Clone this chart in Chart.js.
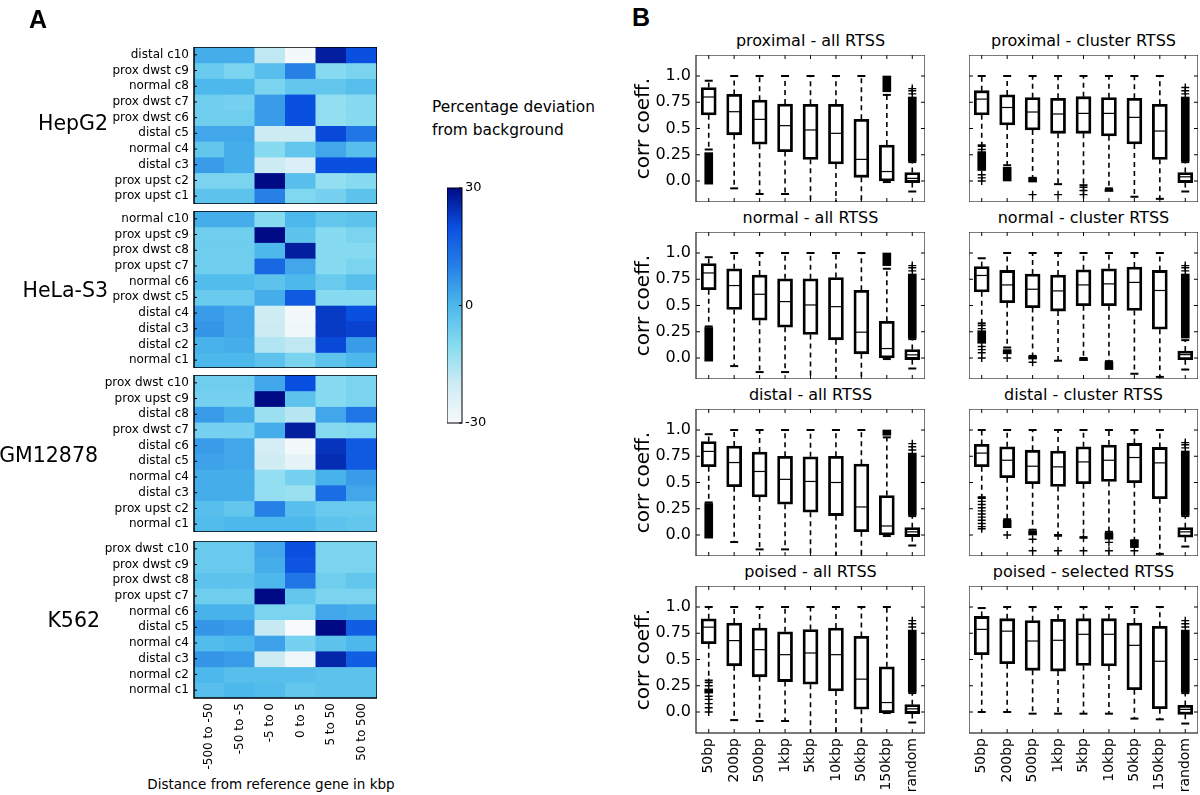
<!DOCTYPE html>
<html>
<head>
<meta charset="utf-8">
<script src="https://cdn.jsdelivr.net/npm/chart.js@4.4.0/dist/chart.umd.min.js"></script>
<style>
body { margin: 0; background: #fff; }
#fig { position: relative; width: 1200px; height: 795px; overflow: hidden; font-family: 'DejaVu Sans', sans-serif; color: #000; }
.box { position: absolute; }
.lbl { position: absolute; white-space: nowrap; line-height: 1; }
</style>
</head>
<body>
<div id="fig"></div>
<script>
// Panel A: heatmaps of percentage deviation from background, four cell lines.
// Panel B: box plots of correlation coefficients per distance bin.

const HM_COLS = ['-500 to -50', '-50 to -5', '-5 to 0', '0 to 5', '5 to 50', '50 to 500'];

const HEPG2_ROWS = ['distal c10', 'prox dwst c9', 'normal c8', 'prox dwst c7', 'prox dwst c6',
    'distal c5', 'normal c4', 'distal c3', 'prox upst c2', 'prox upst c1'];
const HEPG2_VALS = [
    [2, 2, -18, -29, 27, 20],
    [-5, -8, -2, 10, -10, -8],
    [0, 0, -8, -4, -4, -2],
    [-6, -7, 5, 20, -12, -10],
    [-6, -6, 5, 20, -12, -10],
    [3, 3, -20, -20, 21, 12],
    [-4, 2, -10, -4, 3, -2],
    [5, 2, -20, -23, 20, 20],
    [-8, -8, 30, -2, -12, -10],
    [-3, -3, 10, -9, -7, -3]
];

const HELA_ROWS = ['normal c10', 'prox upst c9', 'prox dwst c8', 'prox upst c7', 'normal c6',
    'prox dwst c5', 'distal c4', 'distal c3', 'distal c2', 'normal c1'];
const HELA_VALS = [
    [2, 2, -10, 0, -4, -3],
    [-6, -6, 30, -3, -10, -8],
    [-6, -6, 0, 27, -10, -10],
    [-6, -6, 15, 3, -10, -8],
    [-1, -1, -3, 0, -5, -2],
    [-5, -5, 2, 18, -10, -10],
    [5, 3, -21, -29, 23, 20],
    [6, 3, -20, -28, 23, 22],
    [1, 2, -16, -18, 21, 5],
    [0, 0, -3, -8, -3, 0]
];

const GM_ROWS = ['prox dwst c10', 'prox upst c9', 'distal c8', 'prox dwst c7', 'distal c6',
    'distal c5', 'normal c4', 'distal c3', 'prox upst c2', 'normal c1'];
const GM_VALS = [
    [-6, -6, 3, 20, -10, -8],
    [-7, -7, 30, -3, -10, -8],
    [5, 2, -13, -17, 3, 12],
    [-7, -7, 2, 27, -10, -9],
    [5, 3, -22, -29, 24, 18],
    [4, 3, -21, -26, 25, 18],
    [2, 2, -12, -7, 1, 5],
    [2, 2, -12, -13, 14, 3],
    [-2, -4, 10, -2, -5, -5],
    [-1, 0, 0, 0, -3, -4]
];

const K562_ROWS = ['prox dwst c10', 'prox dwst c9', 'prox dwst c8', 'prox upst c7', 'normal c6',
    'distal c5', 'normal c4', 'distal c3', 'normal c2', 'normal c1'];
const K562_VALS = [
    [-5, -5, 3, 20, -8, -8],
    [-5, -5, 2, 19, -8, -8],
    [-3, -3, 0, 12, -6, -4],
    [-6, -6, 30, -4, -8, -8],
    [1, 1, -8, -8, 3, 2],
    [6, 5, -19, -30, 30, 17],
    [-1, 0, 4, -7, -3, 0],
    [6, 5, -20, -28, 26, 17],
    [0, -2, -2, -2, -3, -3],
    [-2, 0, -1, -4, -3, -3]
];

const CB_TICKS = [-30, 0, 30];
const HEAT_STOPS = [
    [-30, '#f7fafc'], [-20, '#cdebf3'], [-10, '#86dbf0'], [0, '#4cb8eb'],
    [10, '#2680e6'], [20, '#0a50e0'], [30, '#000a85']
];

const BOX_CATS = ['50bp', '200bp', '500bp', '1kbp', '5kbp', '10kbp', '50kbp', '150kbp', 'random'];
const Y_TICKS = [0, 0.25, 0.5, 0.75, 1.0];
const Y_TICK_LABELS = ['0.0', '0.25', '0.5', '0.75', '1.0'];

// each box: [whisker low, q1, median, q3, whisker high]
const PROX_ALL = [
    [0.30, 0.63, 0.80, 0.89, 0.955], [-0.07, 0.44, 0.66, 0.825, 1.0], [-0.124, 0.35, 0.587, 0.77, 1.0],
    [-0.124, 0.28, 0.527, 0.733, 1.0], [-0.25, 0.206, 0.486, 0.73, 1.0], [-0.25, 0.162, 0.454, 0.73, 1.0],
    [-0.25, 0.035, 0.206, 0.587, 1.0], [-0.01, 0.0, 0.09, 0.343, 0.82], [-0.1, -0.015, 0.025, 0.08, 0.18]
];
const PROX_ALL_BANDS = [[-0.03, 0.27], null, null, null, null, null, null, [0.85, 1.0], [0.19, 0.80]];
const PROX_ALL_PTS = [[8, 0.83], [8, 0.86], [8, 0.88]];

const NORM_ALL = [
    [0.30, 0.65, 0.81, 0.90, 0.96], [-0.077, 0.463, 0.69, 0.85, 1.0], [-0.134, 0.36, 0.607, 0.79, 1.0],
    [-0.134, 0.294, 0.537, 0.754, 1.0], [-0.25, 0.224, 0.505, 0.754, 1.0], [-0.25, 0.173, 0.489, 0.767, 1.0],
    [-0.25, 0.04, 0.246, 0.645, 1.0], [-0.01, 0.0, 0.09, 0.35, 0.85], [-0.1, -0.015, 0.03, 0.08, 0.18]
];
const NORM_ALL_BANDS = [[-0.03, 0.29], null, null, null, null, null, null, [0.88, 1.0], [0.19, 0.80]];
const NORM_ALL_PTS = [[8, 0.83], [8, 0.86], [8, 0.88]];

const DIST_ALL = [
    [0.31, 0.65, 0.796, 0.89, 0.96], [-0.067, 0.46, 0.69, 0.847, 1.0], [-0.137, 0.363, 0.605, 0.79, 1.0],
    [-0.137, 0.293, 0.53, 0.75, 1.0], [-0.25, 0.217, 0.51, 0.745, 1.0], [-0.25, 0.185, 0.50, 0.75, 1.0],
    [-0.25, 0.032, 0.267, 0.675, 1.0], [-0.01, 0.0, 0.086, 0.376, 0.93], [-0.1, -0.015, 0.03, 0.07, 0.18]
];
const DIST_ALL_BANDS = [[-0.03, 0.30], null, null, null, null, null, null, [0.95, 1.0], [0.19, 0.78]];
const DIST_ALL_PTS = [[8, 0.81], [8, 0.84], [8, 0.87]];

const POIS_ALL = [
    [0.30, 0.65, 0.808, 0.888, 1.0], [-0.077, 0.44, 0.68, 0.847, 1.0], [-0.086, 0.335, 0.594, 0.80, 1.0],
    [-0.086, 0.29, 0.546, 0.764, 1.0], [-0.25, 0.265, 0.562, 0.786, 1.0], [-0.25, 0.20, 0.546, 0.80, 1.0],
    [-0.25, 0.026, 0.313, 0.72, 1.0], [-0.01, -0.006, 0.09, 0.43, 1.0], [-0.1, -0.015, 0.03, 0.07, 0.18]
];
const POIS_ALL_BANDS = [[0.18, 0.22], null, null, null, null, null, null, null, [0.19, 0.78]];
const POIS_ALL_PTS = [[0, 0.0], [0, 0.04], [0, 0.08], [0, 0.12], [0, 0.15], [0, 0.25], [0, 0.28],
    [8, 0.81], [8, 0.84], [8, 0.87]];

const PROX_CL = [
    [0.34, 0.63, 0.78, 0.86, 1.0], [0.15, 0.533, 0.70, 0.82, 1.0], [0.03, 0.486, 0.657, 0.794, 1.0],
    [-0.03, 0.454, 0.638, 0.787, 1.0], [-0.04, 0.454, 0.644, 0.803, 1.0], [-0.07, 0.43, 0.644, 0.794, 1.0],
    [-0.15, 0.352, 0.606, 0.787, 1.0], [-0.17, 0.206, 0.476, 0.73, 1.0], [-0.1, -0.015, 0.04, 0.08, 0.18]
];
const PROX_CL_BANDS = [[0.10, 0.28], [0.0, 0.13], [-0.01, 0.03], null, null, [-0.1, -0.08], null, null, [0.19, 0.80]];
const PROX_CL_PTS = [[0, 0.0], [0, 0.03], [0, 0.06], [0, 0.30], [0, 0.33], [2, -0.13], [3, -0.13],
    [4, -0.06], [4, -0.09], [4, -0.13], [8, 0.83], [8, 0.86], [8, 0.89]];

const NORM_CL = [
    [0.33, 0.63, 0.786, 0.87, 0.95], [0.10, 0.527, 0.696, 0.834, 1.0], [0.02, 0.48, 0.655, 0.80, 1.0],
    [-0.026, 0.447, 0.639, 0.79, 1.0], [0.0, 0.498, 0.696, 0.84, 1.0], [-0.03, 0.498, 0.706, 0.85, 1.0],
    [-0.15, 0.453, 0.72, 0.866, 1.0], [-0.18, 0.275, 0.643, 0.834, 1.0], [-0.11, -0.016, 0.032, 0.067, 0.17]
];
const NORM_CL_BANDS = [[0.14, 0.26], [0.04, 0.08], [-0.01, 0.015], null, [-0.025, -0.005], [-0.11, -0.04], null, null, [0.19, 0.80]];
const NORM_CL_PTS = [[0, 0.0], [0, 0.05], [0, 0.08], [0, 0.11], [0, 0.28], [0, 0.31], [1, 0.0], [2, -0.04],
    [8, 0.83], [8, 0.86], [8, 0.88]];

const DIST_CL = [
    [0.36, 0.65, 0.78, 0.863, 1.0], [0.15, 0.546, 0.712, 0.84, 1.0], [0.05, 0.489, 0.655, 0.808, 1.0],
    [0.0, 0.463, 0.649, 0.80, 1.0], [-0.02, 0.489, 0.696, 0.84, 1.0], [0.03, 0.51, 0.712, 0.856, 1.0],
    [-0.05, 0.498, 0.738, 0.872, 1.0], [-0.18, 0.345, 0.687, 0.834, 1.0], [-0.11, -0.02, 0.03, 0.07, 0.18]
];
const DIST_CL_BANDS = [null, [0.07, 0.14], [0.0, 0.04], null, null, [-0.04, 0.02], [-0.12, -0.05], null, [0.19, 0.80]];
const DIST_CL_PTS = [[0, 0.06], [0, 0.08], [0, 0.11], [0, 0.14], [0, 0.17], [0, 0.20], [0, 0.23], [0, 0.26],
    [0, 0.29], [0, 0.32], [0, 0.35], [1, 0.0], [2, -0.04], [2, -0.15], [3, -0.01], [3, -0.15],
    [4, -0.03], [4, -0.15], [5, -0.07], [5, -0.15], [6, -0.15], [8, 0.83], [8, 0.86], [8, 0.88]];

const POIS_SEL = [
    [0.0, 0.546, 0.787, 0.91, 0.99], [0.0, 0.46, 0.77, 0.889, 1.0], [-0.016, 0.397, 0.676, 0.87, 1.0],
    [-0.016, 0.39, 0.683, 0.883, 1.0], [-0.016, 0.444, 0.74, 0.889, 1.0], [-0.016, 0.438, 0.74, 0.889, 1.0],
    [-0.063, 0.213, 0.635, 0.848, 1.0], [-0.07, 0.032, 0.483, 0.816, 1.0], [-0.11, -0.022, 0.025, 0.063, 0.18]
];
const POIS_SEL_BANDS = [null, null, null, null, null, null, null, null, [0.19, 0.78]];
const POIS_SEL_PTS = [[8, 0.81], [8, 0.84], [8, 0.87]];

// ---- layout ----
const FONT = "'DejaVu Sans', sans-serif";
const HM_LEFT = 194, HM_W = 183, HM_H = 157, HM_YAXIS_W = 150, HM_XAXIS_H = 75;
const HM_TOPS = [47, 211, 375, 541];
const BP_LEFTS = [696, 969], BP_W = 229, BP_H = 147, BP_YAXIS_W = 64, BP_XAXIS_H = 62;
const BP_TOPS = [55, 232, 409, 586];

Chart.defaults.font.family = FONT;
Chart.defaults.color = '#000';
Chart.defaults.animation = false;
Chart.defaults.events = [];

const fig = document.getElementById('fig');

function place(left, top, w, h) {
    const d = document.createElement('div');
    d.className = 'box';
    d.style.left = left + 'px';
    d.style.top = top + 'px';
    d.style.width = w + 'px';
    d.style.height = h + 'px';
    const c = document.createElement('canvas');
    c.width = w; c.height = h;
    c.style.width = w + 'px'; c.style.height = h + 'px';
    d.appendChild(c);
    fig.appendChild(d);
    return c;
}

function label(str, x, y, size, anchor, weight, family) {
    const el = document.createElement('div');
    el.className = 'lbl';
    el.textContent = str;
    el.style.left = x + 'px';
    el.style.top = y + 'px';
    el.style.fontSize = size + 'px';
    if (weight) el.style.fontWeight = weight;
    if (family) el.style.fontFamily = family;
    const tx = anchor === 'left' ? '0' : anchor === 'right' ? '-100%' : '-50%';
    el.style.transform = `translate(${tx}, -50%)`;
    fig.appendChild(el);
}

function hexRgb(h) {
    return [1, 3, 5].map(i => parseInt(h.slice(i, i + 2), 16));
}

function heatColor(v) {
    for (let i = 1; i < HEAT_STOPS.length; i++) {
        const [v0, c0] = HEAT_STOPS[i - 1], [v1, c1] = HEAT_STOPS[i];
        if (v <= v1 || i === HEAT_STOPS.length - 1) {
            const t = Math.max(0, Math.min(1, (v - v0) / (v1 - v0)));
            const a = hexRgb(c0), b = hexRgb(c1);
            const m = a.map((x, k) => Math.round(x + (b[k] - x) * t));
            return `rgb(${m[0]},${m[1]},${m[2]})`;
        }
    }
}

function seg(ctx, x1, y1, x2, y2) {
    ctx.beginPath();
    ctx.moveTo(x1, y1);
    ctx.lineTo(x2, y2);
    ctx.stroke();
}

// scales keep exactly the size we give them, no label overflow padding
function fixSize(w, h) {
    return s => {
        if (w !== null) s.width = w;
        if (h !== null) s.height = h;
        s.paddingTop = 0; s.paddingBottom = 0;
        s.paddingLeft = 0; s.paddingRight = 0;
    };
}

const NO_GRID = { display: false, drawTicks: false };

// ---- panel A ----
const heatFrame = {
    id: 'heatFrame',
    afterDatasetsDraw(chart) {
        const { ctx, chartArea: a, scales: { y } } = chart;
        ctx.save();
        ctx.strokeStyle = '#000';
        ctx.lineWidth = 1;
        y.ticks.forEach(t => {
            const py = y.getPixelForValue(t.value);
            seg(ctx, a.left, py, a.left + 3, py);
        });
        ctx.lineWidth = 1.5;
        ctx.strokeRect(a.left, a.top, a.width, a.height);
        ctx.restore();
    }
};

function drawHeatmap(rows, vals, top, showX) {
    const h = HM_H + (showX ? HM_XAXIS_H : 0);
    const canvas = place(HM_LEFT - HM_YAXIS_W, top, HM_W + HM_YAXIS_W, h);
    new Chart(canvas, {
        type: 'bar',
        data: {
            labels: HM_COLS,
            datasets: rows.map((r, i) => ({
                label: r,
                data: HM_COLS.map(() => [i - 0.5, i + 0.5]),
                backgroundColor: vals[i].map(heatColor),
                borderWidth: 0,
                inflateAmount: 0.5,
                grouped: false,
                barPercentage: 1,
                categoryPercentage: 1
            }))
        },
        options: {
            responsive: false,
            layout: { padding: 0, autoPadding: false },
            plugins: { legend: { display: false }, tooltip: { enabled: false } },
            scales: {
                x: {
                    grid: NO_GRID,
                    border: { display: false },
                    ticks: {
                        display: showX, autoSkip: false, minRotation: 90, maxRotation: 90,
                        font: { size: 12 }, color: '#000', padding: 5
                    },
                    afterFit: fixSize(null, showX ? HM_XAXIS_H : 0)
                },
                y: {
                    min: -0.5, max: 9.5, reverse: true,
                    grid: NO_GRID,
                    border: { display: false },
                    afterBuildTicks: s => { s.ticks = rows.map((_, i) => ({ value: i })); },
                    ticks: { autoSkip: false, callback: v => rows[v], font: { size: 12 }, color: '#000', padding: 5 },
                    afterFit: fixSize(HM_YAXIS_W, null)
                }
            }
        },
        plugins: [heatFrame]
    });
}

drawHeatmap(HEPG2_ROWS, HEPG2_VALS, HM_TOPS[0], false);
drawHeatmap(HELA_ROWS, HELA_VALS, HM_TOPS[1], false);
drawHeatmap(GM_ROWS, GM_VALS, HM_TOPS[2], false);
drawHeatmap(K562_ROWS, K562_VALS, HM_TOPS[3], true);

label('HepG2', 108, 123, 20.5, 'right');
label('HeLa-S3', 108, 290, 20.5, 'right');
label('GM12878', 98, 455, 20.5, 'right');
label('K562', 100, 620, 20.5, 'right');
label('Distance from reference gene in kbp', 271, 785, 13.5);
label('A', 38, 19, 25, 'center', 'bold', "'Liberation Sans', sans-serif");
label('B', 641, 17, 25, 'center', 'bold', "'Liberation Sans', sans-serif");
label('Percentage deviation', 432, 108, 15.4, 'left');
label('from background', 432, 131, 15.4, 'left');

// colour bar
(function () {
    const canvas = place(447, 180, 45, 251);
    new Chart(canvas, {
        type: 'bar',
        data: {
            labels: ['scale'],
            datasets: [{
                data: [[CB_TICKS[0], CB_TICKS[2]]],
                backgroundColor: c => {
                    const { chart } = c;
                    if (!chart.chartArea) return '#4cb8eb';
                    const y = chart.scales.y;
                    const g = chart.ctx.createLinearGradient(0, y.getPixelForValue(-30), 0, y.getPixelForValue(30));
                    HEAT_STOPS.forEach(([v, col]) => g.addColorStop((v + 30) / 60, col));
                    return g;
                },
                borderWidth: 0,
                barPercentage: 1,
                categoryPercentage: 1
            }]
        },
        options: {
            responsive: false,
            layout: { padding: { top: 8, bottom: 8 }, autoPadding: false },
            plugins: { legend: { display: false }, tooltip: { enabled: false } },
            scales: {
                x: { display: false },
                y: {
                    position: 'right', min: -30, max: 30,
                    grid: NO_GRID, border: { display: false },
                    afterBuildTicks: s => { s.ticks = CB_TICKS.map(v => ({ value: v })); },
                    ticks: { font: { size: 13 }, color: '#000', padding: 3 },
                    afterFit: fixSize(30, null)
                }
            }
        },
        plugins: [{
            id: 'cbFrame',
            afterDatasetsDraw(chart) {
                const { ctx, chartArea: a, scales: { y } } = chart;
                ctx.save();
                ctx.strokeStyle = '#000';
                ctx.lineWidth = 1;
                ctx.strokeRect(a.left, a.top, a.width, a.height);
                CB_TICKS.forEach(v => {
                    const py = y.getPixelForValue(v);
                    seg(ctx, a.right - 3, py, a.right, py);
                });
                ctx.restore();
            }
        }]
    });
})();

// ---- panel B ----
function boxPlugin(box) {
    return {
        id: 'boxParts',
        beforeDatasetsDraw(chart) {
            const { ctx, chartArea: a, scales: { x, y } } = chart;
            ctx.save();
            ctx.beginPath();
            ctx.rect(a.left, a.top, a.width, a.height);
            ctx.clip();
            ctx.strokeStyle = '#000';
            box.forEach((b, i) => {
                const px = x.getPixelForValue(i);
                ctx.setLineDash([5, 4]);
                ctx.lineWidth = 1.6;
                seg(ctx, px, y.getPixelForValue(b[1]), px, y.getPixelForValue(b[0]));
                seg(ctx, px, y.getPixelForValue(b[3]), px, y.getPixelForValue(b[4]));
                ctx.setLineDash([]);
                ctx.lineWidth = 2;
                [b[0], b[4]].forEach(v => {
                    const py = y.getPixelForValue(v);
                    seg(ctx, px - 4, py, px + 4, py);
                });
            });
            ctx.restore();
        },
        afterDatasetsDraw(chart) {
            const { ctx, chartArea: a, scales: { x, y } } = chart;
            ctx.save();
            ctx.strokeStyle = '#000';
            ctx.lineWidth = 1.2;
            box.forEach((b, i) => {
                const px = x.getPixelForValue(i);
                const py = y.getPixelForValue(b[2]);
                seg(ctx, px - 6.5, py, px + 6.5, py);
            });
            ctx.lineWidth = 1;
            Y_TICKS.forEach(v => {
                const py = y.getPixelForValue(v);
                seg(ctx, a.left, py, a.left + 4, py);
                seg(ctx, a.right - 4, py, a.right, py);
            });
            BOX_CATS.forEach((_, i) => {
                const px = x.getPixelForValue(i);
                seg(ctx, px, a.top, px, a.top + 4);
                seg(ctx, px, a.bottom - 4, px, a.bottom);
            });
            ctx.strokeStyle = '#222';
            ctx.lineWidth = 1.2;
            ctx.strokeRect(a.left, a.top, a.width, a.height);
            ctx.restore();
        }
    };
}

function drawBoxPanel(title, box, bands, pts, col, row) {
    const showY = col === 0, showX = row === 3;
    const yw = showY ? BP_YAXIS_W : 0, xh = showX ? BP_XAXIS_H : 0;
    const canvas = place(BP_LEFTS[col] - yw, BP_TOPS[row], BP_W + yw, BP_H + xh);
    new Chart(canvas, {
        type: 'bar',
        data: {
            labels: BOX_CATS,
            datasets: [
                {
                    type: 'line', showLine: false, order: 0,
                    data: pts.map(([i, v]) => ({ x: BOX_CATS[i], y: v })),
                    pointStyle: 'cross', pointRadius: 4, pointBorderWidth: 1.4,
                    borderColor: '#000', backgroundColor: '#000'
                },
                {
                    data: box.map(b => [b[1], b[3]]), order: 1,
                    backgroundColor: '#fff', borderColor: '#000', borderWidth: 2.8,
                    borderSkipped: false, barThickness: 15, grouped: false
                },
                {
                    data: bands, order: 2,
                    backgroundColor: '#000', borderWidth: 0, barThickness: 8, grouped: false
                }
            ]
        },
        options: {
            responsive: false,
            layout: { padding: 0, autoPadding: false },
            plugins: { legend: { display: false }, tooltip: { enabled: false } },
            scales: {
                x: {
                    grid: NO_GRID,
                    border: { display: false },
                    ticks: {
                        display: showX, autoSkip: false, minRotation: 90, maxRotation: 90,
                        font: { size: 14 }, color: '#000', padding: 5
                    },
                    afterFit: fixSize(null, xh)
                },
                y: {
                    min: -0.2, max: 1.2,
                    grid: NO_GRID,
                    border: { display: false },
                    afterBuildTicks: s => { s.ticks = Y_TICKS.map(v => ({ value: v })); },
                    ticks: {
                        display: showY, font: { size: 16 }, color: '#000', padding: 5,
                        callback: v => Y_TICK_LABELS[Y_TICKS.indexOf(v)]
                    },
                    title: { display: showY, text: 'corr coeff.', font: { size: 20 }, color: '#000', padding: 0 },
                    afterFit: fixSize(yw, null)
                }
            }
        },
        plugins: [boxPlugin(box)]
    });
    label(title, BP_LEFTS[col] + BP_W / 2, BP_TOPS[row] - 14, 16);
}

drawBoxPanel('proximal - all RTSS', PROX_ALL, PROX_ALL_BANDS, PROX_ALL_PTS, 0, 0);
drawBoxPanel('normal - all RTSS', NORM_ALL, NORM_ALL_BANDS, NORM_ALL_PTS, 0, 1);
drawBoxPanel('distal - all RTSS', DIST_ALL, DIST_ALL_BANDS, DIST_ALL_PTS, 0, 2);
drawBoxPanel('poised - all RTSS', POIS_ALL, POIS_ALL_BANDS, POIS_ALL_PTS, 0, 3);
drawBoxPanel('proximal - cluster RTSS', PROX_CL, PROX_CL_BANDS, PROX_CL_PTS, 1, 0);
drawBoxPanel('normal - cluster RTSS', NORM_CL, NORM_CL_BANDS, NORM_CL_PTS, 1, 1);
drawBoxPanel('distal - cluster RTSS', DIST_CL, DIST_CL_BANDS, DIST_CL_PTS, 1, 2);
drawBoxPanel('poised - selected RTSS', POIS_SEL, POIS_SEL_BANDS, POIS_SEL_PTS, 1, 3);
</script>
</body>
</html>
